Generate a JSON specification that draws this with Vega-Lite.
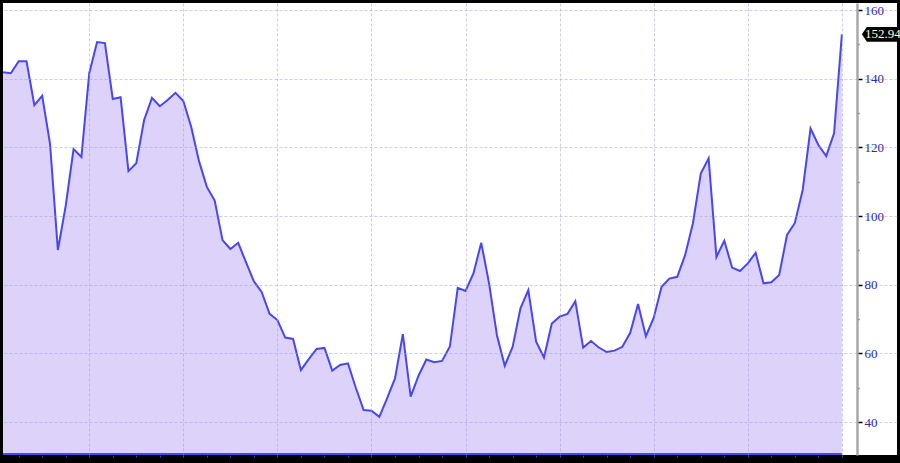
{
  "$schema": "https://vega.github.io/schema/vega-lite/v6.json",
  "width": 894,
  "height": 452,
  "autosize": {"type": "none"},
  "padding": {"left": 3, "top": 3, "right": 3, "bottom": 8},
  "background": "#000000",
  "config": {"view": {"fill": "#ffffff", "stroke": null}},
  "data": {"values": [
    {"i": 0, "v": 141.9}, {"i": 1, "v": 141.6}, {"i": 2, "v": 145.1}, {"i": 3, "v": 145.1},
    {"i": 4, "v": 132.3}, {"i": 5, "v": 135.0}, {"i": 6, "v": 121.0}, {"i": 7, "v": 90.1},
    {"i": 8, "v": 103.0}, {"i": 9, "v": 119.5}, {"i": 10, "v": 117.2}, {"i": 11, "v": 141.6},
    {"i": 12, "v": 150.7}, {"i": 13, "v": 150.4}, {"i": 14, "v": 134.1}, {"i": 15, "v": 134.6},
    {"i": 16, "v": 113.1}, {"i": 17, "v": 115.4}, {"i": 18, "v": 128.0}, {"i": 19, "v": 134.4},
    {"i": 20, "v": 132.0}, {"i": 21, "v": 133.8}, {"i": 22, "v": 135.9}, {"i": 23, "v": 133.5},
    {"i": 24, "v": 126.0}, {"i": 25, "v": 116.0}, {"i": 26, "v": 108.5}, {"i": 27, "v": 104.5},
    {"i": 28, "v": 93.0}, {"i": 29, "v": 90.4}, {"i": 30, "v": 92.2}, {"i": 31, "v": 86.5},
    {"i": 32, "v": 81.0}, {"i": 33, "v": 77.8}, {"i": 34, "v": 71.5}, {"i": 35, "v": 69.7},
    {"i": 36, "v": 64.6}, {"i": 37, "v": 64.2}, {"i": 38, "v": 55.1}, {"i": 39, "v": 58.3},
    {"i": 40, "v": 61.3}, {"i": 41, "v": 61.6}, {"i": 42, "v": 55.0}, {"i": 43, "v": 56.6},
    {"i": 44, "v": 57.1}, {"i": 45, "v": 50.0}, {"i": 46, "v": 43.5}, {"i": 47, "v": 43.3},
    {"i": 48, "v": 41.5}, {"i": 49, "v": 47.0}, {"i": 50, "v": 52.7}, {"i": 51, "v": 65.6},
    {"i": 52, "v": 47.4}, {"i": 53, "v": 53.5}, {"i": 54, "v": 58.2}, {"i": 55, "v": 57.4},
    {"i": 56, "v": 57.8}, {"i": 57, "v": 62.0}, {"i": 58, "v": 79.1}, {"i": 59, "v": 78.2},
    {"i": 60, "v": 83.3}, {"i": 61, "v": 92.2}, {"i": 62, "v": 80.4}, {"i": 63, "v": 65.3},
    {"i": 64, "v": 56.4}, {"i": 65, "v": 61.9}, {"i": 66, "v": 73.1}, {"i": 67, "v": 78.4},
    {"i": 68, "v": 63.4}, {"i": 69, "v": 58.8}, {"i": 70, "v": 68.7}, {"i": 71, "v": 70.7},
    {"i": 72, "v": 71.5}, {"i": 73, "v": 75.2}, {"i": 74, "v": 61.7}, {"i": 75, "v": 63.6},
    {"i": 76, "v": 61.7}, {"i": 77, "v": 60.4}, {"i": 78, "v": 60.8}, {"i": 79, "v": 61.9},
    {"i": 80, "v": 66.0}, {"i": 81, "v": 74.4}, {"i": 82, "v": 65.0}, {"i": 83, "v": 70.4},
    {"i": 84, "v": 79.4}, {"i": 85, "v": 81.8}, {"i": 86, "v": 82.3}, {"i": 87, "v": 88.6},
    {"i": 88, "v": 97.9}, {"i": 89, "v": 112.4}, {"i": 90, "v": 116.8}, {"i": 91, "v": 88.1},
    {"i": 92, "v": 92.8}, {"i": 93, "v": 85.0}, {"i": 94, "v": 84.0}, {"i": 95, "v": 86.2},
    {"i": 96, "v": 89.3}, {"i": 97, "v": 80.4}, {"i": 98, "v": 80.7}, {"i": 99, "v": 82.8},
    {"i": 100, "v": 94.5}, {"i": 101, "v": 98.0}, {"i": 102, "v": 107.6}, {"i": 103, "v": 125.5},
    {"i": 104, "v": 120.7}, {"i": 105, "v": 117.5}, {"i": 106, "v": 124.1}, {"i": 107, "v": 152.94}
  ]},
  "encoding": {
    "x": {
      "field": "i", "type": "quantitative",
      "scale": {"domain": [0, 114.03], "nice": false, "zero": false},
      "axis": {
        "title": null,
        "values": [2,5,8,11,14,17,20,23,26,29,32,35,38,41,44,47,50,53,56,59,62,65,68,71,74,77,80,83,86,89,92,95,98,101,104,107],
        "labels": false,
        "domain": false,
        "ticks": true,
        "tickSize": 2,
        "tickColor": "#4a4ac8",
        "grid": true,
        "gridColor": "#9c9cd8",
        "gridOpacity": {"condition": {"test": "(datum.value - 11) % 12 === 0", "value": 0.5}, "value": 0},
        "gridDash": [3, 2],
        "zindex": 1
      }
    },
    "y": {
      "field": "v", "type": "quantitative",
      "scale": {"domain": [30.4, 162.06], "nice": false, "zero": false},
      "axis": {
        "title": null,
        "orient": "right",
        "offset": -40,
        "values": [40,50,60,70,80,90,100,110,120,130,140,150,160],
        "labelExpr": "datum.value % 20 === 0 ? datum.label : ''",
        "domainColor": "#a8a8a8",
        "domainWidth": 2.5,
        "tickSize": {"condition": {"test": "datum.value % 20 === 0", "value": 5}, "value": 2},
        "tickColor": {"condition": {"test": "datum.value % 20 === 0", "value": "#000000"}, "value": "#4040d0"},
        "tickWidth": 1.5,
        "labelFont": "Liberation Serif",
        "labelFontSize": 13,
        "labelColor": "#2b2ba8",
        "labelPadding": 2,
        "grid": true,
        "gridColor": "#9c9cd8",
        "gridOpacity": {"condition": {"test": "datum.value % 20 === 0", "value": 0.5}, "value": 0},
        "gridDash": [3, 2],
        "zindex": 1
      }
    }
  },
  "layer": [
    {"mark": {"type": "area", "fill": "#dcd2fa", "clip": true}},
    {
      "mark": {"type": "line", "color": "#4848ee", "strokeWidth": 2},
      "encoding": {"y": {"datum": 30.7, "type": "quantitative"}}
    },
    {"mark": {"type": "line", "color": "#4848ee", "strokeWidth": 2, "clip": true}},
    {
      "transform": [{"filter": "datum.i === 107"}],
      "mark": {"type": "point", "shape": "M1,0 L1.25,-0.37 L2.9,-0.37 L2.9,0.37 L1.25,0.37 Z", "size": 1600, "filled": true, "fill": "#000000", "opacity": 1, "strokeWidth": 0}
    },
    {
      "transform": [{"filter": "datum.i === 107"}],
      "mark": {"type": "text", "align": "left", "baseline": "middle", "dx": 23, "font": "Liberation Serif", "fontSize": 13, "color": "#ffffd8"},
      "encoding": {"text": {"field": "v", "type": "quantitative", "format": ".2f"}}
    }
  ]
}
